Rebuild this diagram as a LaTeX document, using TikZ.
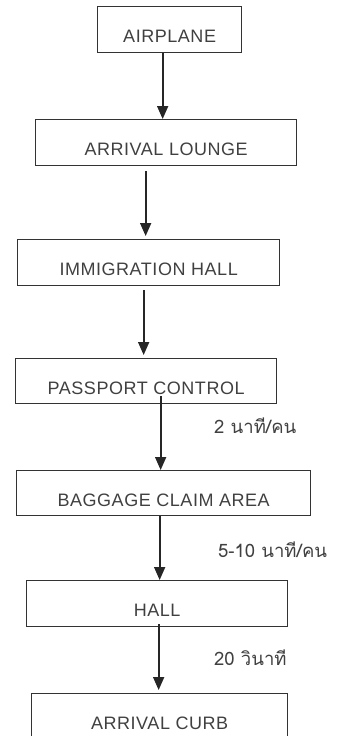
\documentclass[tikz,border=0pt]{standalone}
\usepackage{fontspec}
\setmainfont{Liberation Sans}
\newfontfamily\boxfont[LetterSpace=3]{Liberation Sans}
\newfontfamily\thaifont[Script=Thai]{Loma}
\usetikzlibrary{arrows.meta,calc}

\begin{document}
\begin{tikzpicture}[x=1pt,y=-1pt,
    station/.style={
    % The box:
    draw=black!80,line width=1.3pt,
    anchor=north west,inner sep=0pt,
    % The text sits low in the box
    text height=36pt,text depth=10pt,
    text=black!75,font=\boxfont\fontsize{18}{18}\selectfont},
    flow/.style={draw=black!85,line width=1.8pt,
    -{Triangle[width=11pt,length=13pt]}},
    timing/.style={anchor=base west,inner sep=0pt,
    text=black!75,font=\thaifont\fontsize{18.5}{18.5}\selectfont}]
    \useasboundingbox (0,0) rectangle (341,736);
    \node (airplane) [station,minimum width=144pt] at (97,6) {AIRPLANE};
    \node (lounge) [station,minimum width=261pt] at (35,119) {ARRIVAL LOUNGE};
    \node (immigration) [station,minimum width=262pt] at (17,239) {IMMIGRATION HALL};
    \node (passport) [station,minimum width=261pt,text depth=9pt] at (15,358) {PASSPORT CONTROL};
    \node (baggage) [station,minimum width=294pt,text depth=9pt] at (16,470) {BAGGAGE CLAIM AREA};
    \node (hall) [station,minimum width=261pt] at (26,580) {HALL};
    \node (curb) [station,minimum width=256pt] at (31,693) {ARRIVAL CURB};
    % times
    \node (t1) [timing] at (214,433) {2 นาที/คน};
    \node (t2) [timing] at (218,557) {5-10 นาที/คน};
    \node (t3) [timing] at (214,665) {20 วินาที};
    % arrows
    \draw[flow] ([xshift=-7pt]airplane.south) -- ([xshift=-7pt]airplane.south |- lounge.north);
    \draw[flow] ([xshift=-20.5pt,yshift=-5pt]lounge.south) -- ([xshift=-20.5pt,yshift=3pt]lounge.south |- immigration.north);
    \draw[flow] ([xshift=-5pt,yshift=-4pt]immigration.south) -- ([xshift=-5pt,yshift=3pt]immigration.south |- passport.north);
    \draw[flow] ([xshift=14.5pt,yshift=8pt]passport.south) -- ([xshift=14.5pt]passport.south |- baggage.north);
    \draw[flow] ([xshift=-4pt]baggage.south) -- ([xshift=-4pt]baggage.south |- hall.north);
    \draw[flow] ([xshift=1.5pt,yshift=3pt]hall.south) -- ([xshift=1.5pt,yshift=3pt]hall.south |- curb.north);
\end{tikzpicture}
\end{document}
